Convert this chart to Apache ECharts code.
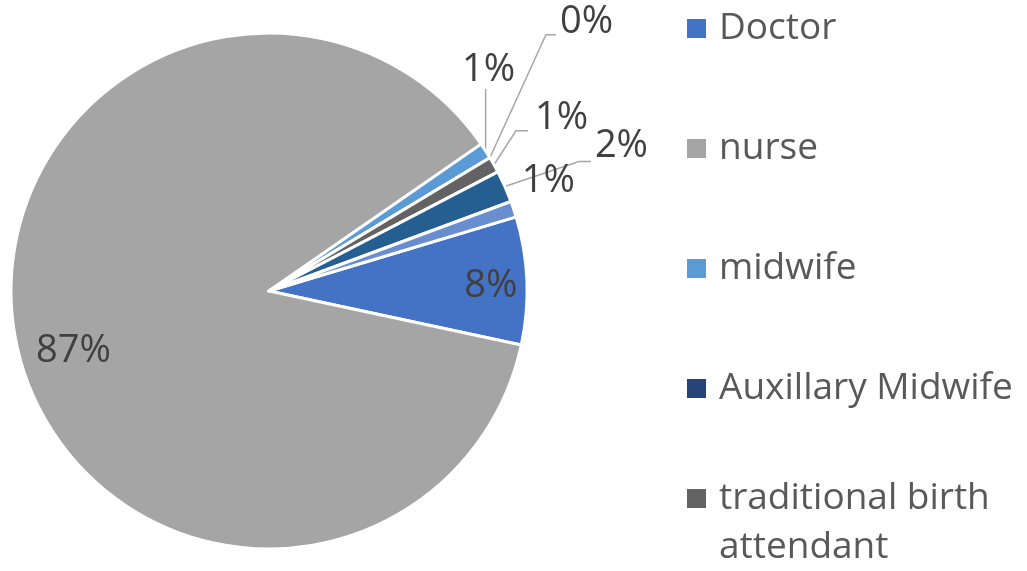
<!DOCTYPE html>
<html>
<head>
<meta charset="utf-8">
<script src="https://cdn.jsdelivr.net/npm/echarts@6/dist/echarts.min.js"></script>
<style>
  html, body { margin: 0; padding: 0; background: #ffffff; }
  #chart { width: 1027px; height: 571px; }
</style>
</head>
<body>
<div id="chart"></div>
<script>
// Who attended the delivery (share of births, %)
const categories = ['Doctor', 'nurse', 'midwife', 'Auxillary Midwife', 'traditional birth attendant', 'family member', 'other'];
const shares = [8, 87, 1, 0, 1, 2, 1];
const legendNames = ['Doctor', 'nurse', 'midwife', 'Auxillary Midwife'];
const legendWrapped = ['traditional birth attendant'];
const wrappedLines = ['traditional birth', 'attendant'];

const palette = ['#4472C4', '#A5A5A5', '#5B9BD5', '#264478', '#636363', '#255E91', '#698ED0'];

// Leader-line elbows and label anchors, as offsets from the slice edge
const outsidePlacement = {
  'midwife':                     { label: [3, -81],   line: [[0, -62], [0, -62]],    align: 'center' },
  'Auxillary Midwife':           { label: [70, -136], line: [[56, -123], [66, -123]], align: 'left' },
  'traditional birth attendant': { label: [41, -47],  line: [[22, -34], [34, -34]],   align: 'left' },
  'family member':               { label: [90, -40],  line: [[74, -25], [86, -25]],   align: 'left' },
  'other':                       { label: [8, -28],   line: [[0, 0], [0, 0]],         align: 'left' }
};
// Shift of the in-slice labels from their default spot
const insideShift = { 'Doctor': [90, 0], 'nurse': [-66, 34] };
const insideNames = ['Doctor', 'nurse'];

const font = "'Open Sans', 'Noto Sans', sans-serif";

const chart = echarts.init(document.getElementById('chart'), null, { renderer: 'canvas' });

const data = categories.map((name, i) => ({
  name: name,
  value: shares[i],
  itemStyle: { color: palette[i] },
  label: insideNames.indexOf(name) >= 0 ? { position: 'inside' } : { position: 'outside' }
}));

const legendCommon = {
  orient: 'vertical',
  left: 687,
  padding: 0,
  icon: 'rect',
  itemWidth: 19,
  itemHeight: 19,
  itemGap: 73,
  itemStyle: { borderWidth: 0 },
  selectedMode: false
};

const legendText = { fontFamily: font, fontSize: 37, lineHeight: 47, color: '#595959' };

chart.setOption({
  animation: false,
  backgroundColor: '#ffffff',
  legend: [
    Object.assign({}, legendCommon, {
      top: 5,
      data: legendNames,
      textStyle: Object.assign({}, legendText, { padding: [0, 0, 0, 8] })
    }),
    // wrapped entry: a blank first row keeps the swatch level with the first text line
    Object.assign({}, legendCommon, {
      top: 431,
      data: legendWrapped,
      formatter: () => '{s| }\n' + wrappedLines.map(t => '{t|' + t + '}').join('\n'),
      textStyle: {
        padding: [0, 0, 0, 8],
        rich: {
          s: Object.assign({}, legendText, { lineHeight: 49 }),
          t: Object.assign({}, legendText, { lineHeight: 49 })
        }
      }
    })
  ],
  series: [{
    type: 'pie',
    center: [269, 291],
    radius: 258,
    startAngle: 16.7,
    clockwise: true,
    avoidLabelOverlap: false,
    percentPrecision: 0,
    itemStyle: { borderColor: '#ffffff', borderWidth: 3 },
    label: {
      show: true,
      formatter: '{d}%',
      fontFamily: font,
      fontSize: 38,
      color: '#404040'
    },
    labelLine: {
      show: true,
      length: 10,
      length2: 10,
      smooth: false,
      lineStyle: { color: '#A6A6A6', width: 1.5 }
    },
    labelLayout: function (params) {
      const name = categories[params.dataIndex];
      const out = outsidePlacement[name];
      if (out && params.labelLinePoints) {
        const p0 = params.labelLinePoints[0];
        const pts = [[p0[0], p0[1]]].concat(out.line.map(d => [p0[0] + d[0], p0[1] + d[1]]));
        return {
          x: p0[0] + out.label[0],
          y: p0[1] + out.label[1],
          align: out.align,
          verticalAlign: 'middle',
          labelLinePoints: pts
        };
      }
      const s = insideShift[name];
      if (s) {
        const r = params.labelRect;
        return {
          x: r.x + r.width / 2 + s[0],
          y: r.y + r.height / 2 + s[1],
          align: 'center',
          verticalAlign: 'middle'
        };
      }
      return {};
    },
    data: data
  }]
});
</script>
</body>
</html>
